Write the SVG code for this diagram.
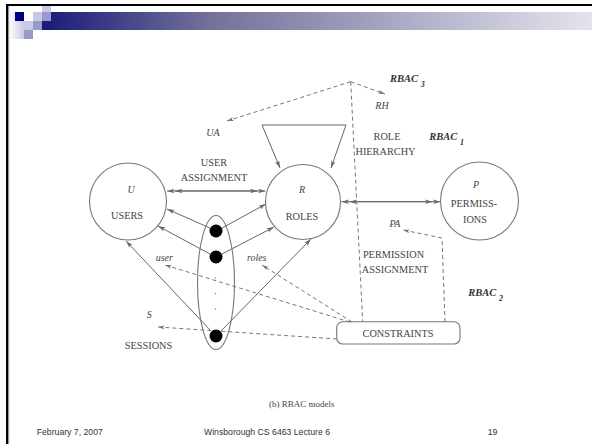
<svg xmlns="http://www.w3.org/2000/svg" width="592" height="444" viewBox="0 0 592 444">
<defs>
<linearGradient id="bar" x1="42" y1="0" x2="592" y2="0" gradientUnits="userSpaceOnUse">
<stop offset="0" stop-color="#1a1a78"/>
<stop offset="0.3" stop-color="#70709a"/>
<stop offset="1" stop-color="#e4e4ee"/>
</linearGradient>
<linearGradient id="lg" x1="0" y1="0" x2="1" y2="0">
<stop offset="0" stop-color="#ffffff"/>
<stop offset="1" stop-color="#c8c8e4"/>
</linearGradient>
<marker id="ah" viewBox="0 0 10 6" refX="10" refY="3" markerWidth="8" markerHeight="4.5" markerUnits="userSpaceOnUse" orient="auto">
<path d="M0,0 L10,3 L0,6 L2.5,3 z" fill="#666"/>
</marker>
<marker id="dh" viewBox="0 0 10 6" refX="10" refY="3" markerWidth="7" markerHeight="4" markerUnits="userSpaceOnUse" orient="auto">
<path d="M0,0 L10,3 L0,6 L2.5,3 z" fill="#777"/>
</marker>
<style>
.ln{stroke:#666;stroke-width:1;fill:none}
.ds{stroke:#777;stroke-width:1;fill:none;stroke-dasharray:4 3}
.nd{stroke:#777;stroke-width:1.1;fill:none}
.t{font-family:"Liberation Serif",serif;font-size:10.3px;fill:#444;text-anchor:middle}
.i{font-family:"Liberation Serif",serif;font-size:10px;font-style:italic;fill:#444;text-anchor:middle}
.rb{font-family:"Liberation Serif",serif;font-size:10.5px;font-style:italic;font-weight:bold;fill:#333}
.sb{font-size:8px}
.f{font-family:"Liberation Sans",Arial,sans-serif;font-size:8.7px;fill:#333}
</style>
</defs>
<rect width="592" height="444" fill="#ffffff"/>
<g id="header">
<rect x="42" y="12" width="550" height="18" fill="url(#bar)"/>
<rect x="9" y="12" width="15" height="27" fill="url(#lg)"/>
<rect x="15" y="12" width="9" height="9" fill="#000080"/>
<rect x="33" y="12" width="9" height="9" fill="#c8c8e6"/>
<rect x="42" y="6" width="9" height="6" fill="#c8c8e6"/>
<rect x="42" y="12" width="9" height="9" fill="#9999cc"/>
<rect x="24" y="21" width="9" height="9" fill="#c8c8e6"/>
<rect x="33" y="21" width="9" height="9" fill="#9999cc"/>
<rect x="24" y="30" width="9" height="9" fill="#9999cc"/>
<rect x="6" y="4" width="586" height="2" fill="#000"/>
<rect x="6" y="4" width="2" height="440" fill="#000"/>
<rect x="8" y="6" width="1.2" height="438" fill="#999"/>
</g>
<g id="connectors">
<line class="ln" x1="214" y1="191" x2="167" y2="191" marker-end="url(#ah)"/>
<line class="ln" x1="214" y1="191" x2="175" y2="191" marker-end="url(#ah)"/>
<line class="ln" x1="214" y1="191" x2="265.5" y2="191" marker-end="url(#ah)"/>
<line class="ln" x1="214" y1="191" x2="257.5" y2="191" marker-end="url(#ah)"/>
<line class="ln" x1="390" y1="201.7" x2="341.5" y2="201.7" marker-end="url(#ah)"/>
<line class="ln" x1="390" y1="201.7" x2="349.5" y2="201.7" marker-end="url(#ah)"/>
<line class="ln" x1="390" y1="201.7" x2="440.5" y2="201.7" marker-end="url(#ah)"/>
<line class="ln" x1="390" y1="201.7" x2="432.5" y2="201.7" marker-end="url(#ah)"/>
<line class="ln" x1="262" y1="125" x2="346" y2="125"/>
<line class="ln" x1="262" y1="125" x2="280" y2="168" marker-end="url(#ah)"/>
<line class="ln" x1="346" y1="125" x2="331" y2="168" marker-end="url(#ah)"/>
<line class="ln" x1="210" y1="228" x2="167" y2="209" marker-end="url(#ah)"/>
<line class="ln" x1="222" y1="228" x2="266" y2="204" marker-end="url(#ah)"/>
<line class="ln" x1="210" y1="254" x2="158" y2="226" marker-end="url(#ah)"/>
<line class="ln" x1="222" y1="254" x2="274" y2="227" marker-end="url(#ah)"/>
<line class="ln" x1="211" y1="331" x2="126" y2="241" marker-end="url(#ah)"/>
<line class="ln" x1="221" y1="331" x2="311" y2="239" marker-end="url(#ah)"/>
<line class="ds" x1="350" y1="322" x2="165" y2="265" marker-end="url(#dh)"/>
<line class="ds" x1="352" y1="322" x2="262" y2="265" marker-end="url(#dh)"/>
<line class="ds" x1="337" y1="339" x2="158" y2="327" marker-end="url(#dh)"/>
<line class="ds" x1="350.7" y1="81.7" x2="227" y2="121" marker-end="url(#dh)"/>
<line class="ds" x1="350.7" y1="81.7" x2="385" y2="94" marker-end="url(#dh)"/>
<line class="ds" x1="350.7" y1="81.7" x2="362.7" y2="321.7"/>
<polyline class="ds" points="445,322 442,238 403,230" marker-end="url(#dh)"/>
</g>
<g id="users">
<circle class="nd" cx="128" cy="201.5" r="38.5"/>
<text class="i" x="131" y="192.5">U</text>
<text class="t" x="127" y="219">USERS</text>
</g>
<g id="roles">
<circle class="nd" cx="303" cy="202" r="37.5"/>
<text class="i" x="302" y="192.5">R</text>
<text class="t" x="302" y="219.5">ROLES</text>
</g>
<g id="permissions">
<circle class="nd" cx="479.5" cy="201" r="39"/>
<text class="i" x="476" y="187.5">P</text>
<text class="t" x="474" y="206.5">PERMISS-</text>
<text class="t" x="475" y="222.5">IONS</text>
</g>
<g id="sessions">
<ellipse class="nd" cx="216" cy="282.5" rx="18.5" ry="67"/>
<circle cx="216" cy="231" r="6.5" fill="#000"/>
<circle cx="216" cy="257" r="6.5" fill="#000"/>
<circle cx="216" cy="336" r="6.5" fill="#000"/>
<circle cx="215.5" cy="278" r="0.8" fill="#888"/>
<circle cx="215.5" cy="293.5" r="0.8" fill="#888"/>
<circle cx="215.5" cy="309" r="0.8" fill="#888"/>
<text class="i" x="149.3" y="317.5">S</text>
<text class="t" x="148.5" y="349">SESSIONS</text>
</g>
<g id="constraints">
<rect class="nd" x="336.7" y="321.7" width="123.3" height="22.3" rx="6"/>
<text class="t" x="398" y="336.8">CONSTRAINTS</text>
</g>
<g id="labels">
<text class="t" x="214" y="165.5">USER</text>
<text class="t" x="214" y="181">ASSIGNMENT</text>
<text class="i" x="213" y="136">UA</text>
<text class="i" x="382" y="109">RH</text>
<text class="t" x="387" y="140">ROLE</text>
<text class="t" x="385.5" y="154.7">HIERARCHY</text>
<text class="i" x="395" y="226.7">PA</text>
<text class="t" x="393.5" y="257.7">PERMISSION</text>
<text class="t" x="395" y="272.7">ASSIGNMENT</text>
<text class="i" x="164.3" y="260.5">user</text>
<text class="i" x="256.7" y="261">roles</text>
<text class="rb" x="390" y="81.5">RBAC <tspan class="sb" dy="5">3</tspan></text>
<text class="rb" x="429.3" y="139.5">RBAC <tspan class="sb" dy="5">1</tspan></text>
<text class="rb" x="468.3" y="296">RBAC <tspan class="sb" dy="5">2</tspan></text>
<text class="t" x="301.7" y="406.5" style="font-size:9px">(b) RBAC models</text>
</g>
<g id="footer">
<text class="f" x="36.7" y="434.8">February 7, 2007</text>
<text class="f" x="267" y="434.8" text-anchor="middle">Winsborough CS 6463 Lecture 6</text>
<text class="f" x="492.5" y="434.8" text-anchor="middle">19</text>
</g>
</svg>
